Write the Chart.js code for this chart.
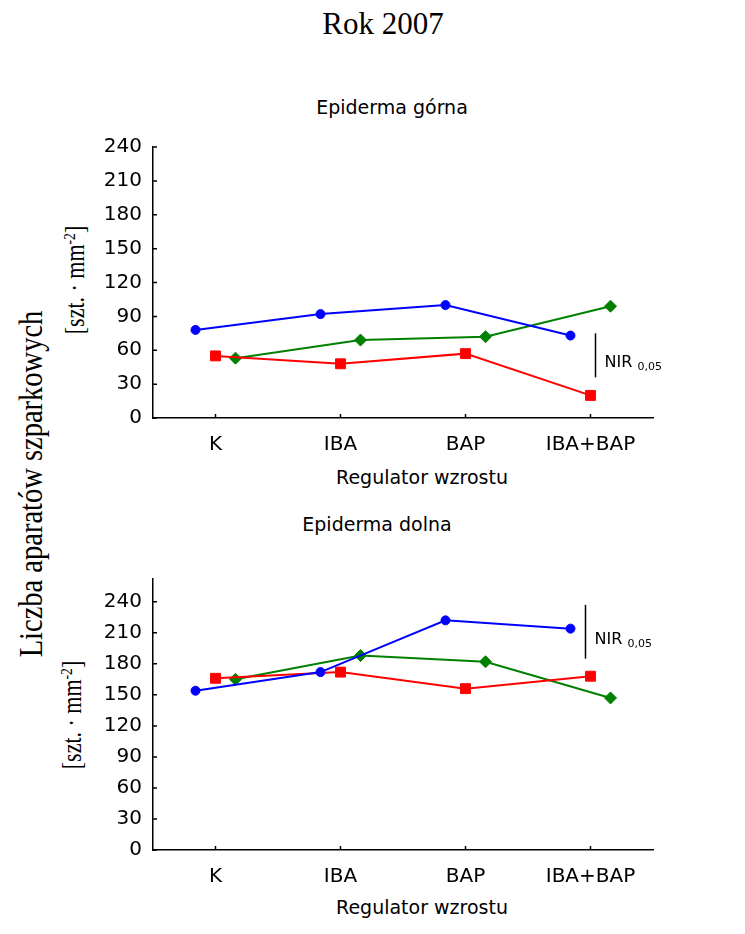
<!DOCTYPE html>
<html>
<head>
<meta charset="utf-8">
<script src="https://cdn.jsdelivr.net/npm/chart.js@4"></script>
<style>
  body { margin: 0; background: #fff; }
  #page { position: relative; width: 745px; height: 934px; overflow: hidden; }
  .lbl { position: absolute; white-space: nowrap; line-height: 1; color: #000; }
  .sans { font-family: "DejaVu Sans", sans-serif; font-size: 19px; transform: translateX(-50%); }
  .serif { font-family: "Liberation Serif", serif; }
  .rot { transform: translate(-50%, -50%) scaleX(1.2) rotate(-90deg); }
  sup { font-size: 0.62em; vertical-align: 0.55em; line-height: 0; }
  canvas { position: absolute; left: 0; }
</style>
</head>
<body>
<div id="page">
  <div class="lbl serif" style="left:383px; top:8px; font-size:31px; transform:translateX(-50%);">Rok 2007</div>
  <div class="lbl serif rot" style="left:31px; top:484px; font-size:28.5px;">Liczba aparatów szparkowych</div>
  <div class="lbl serif rot" style="left:76px; top:280px; font-size:22px;">[szt. · mm<sup>-2</sup>]</div>
  <div class="lbl serif rot" style="left:73px; top:715px; font-size:22px;">[szt. · mm<sup>-2</sup>]</div>

  <div class="lbl sans" style="left:392px; top:98px;">Epiderma górna</div>
  <div class="lbl sans" style="left:422px; top:468px;">Regulator wzrostu</div>
  <div class="lbl sans" style="left:377px; top:515px;">Epiderma dolna</div>
  <div class="lbl sans" style="left:422px; top:898px;">Regulator wzrostu</div>

  <canvas id="upper" width="745" height="392" style="top:80px;"></canvas>
  <canvas id="lower" width="745" height="348" style="top:556px;"></canvas>
</div>

<script>
// categories and tick values
var categories = ['K', 'IBA', 'BAP', 'IBA+BAP'];
var yTicks = [0, 30, 60, 90, 120, 150, 180, 210, 240];

// epiderma górna
var upperBlue = [78, 92, 100, 73];
var upperRed = [55, 48, 57, 20];
var upperGreen = [53, 69, 72, 99];
var upperNir = [36, 75];

// epiderma dolna
var lowerBlue = [154, 172, 222, 214];
var lowerRed = [166, 172, 156, 168];
var lowerGreen = [165, 188, 182, 147];
var lowerNir = [185, 237];

Chart.defaults.font.family = '"DejaVu Sans", sans-serif';
Chart.defaults.color = '#000';

// series are shifted a little left/right of the category centre
function points(values, shift) {
  return values.map(function(v, i){ return {x: i + shift, y: v}; });
}

function series(values, shift, color, style, radius) {
  return {
    data: points(values, shift),
    borderColor: color,
    backgroundColor: color,
    borderWidth: 2,
    pointStyle: style,
    pointRadius: radius,
    pointBorderWidth: 1,
    pointBorderColor: color,
    pointBackgroundColor: color,
    tension: 0
  };
}

// short tick marks pointing into the plot
var innerTicks = {
  id: 'innerTicks',
  afterDraw: function(chart) {
    var ctx = chart.ctx, area = chart.chartArea;
    var x = chart.scales.x, y = chart.scales.y;
    ctx.save();
    ctx.strokeStyle = '#000';
    ctx.lineWidth = 1.5;
    ctx.beginPath();
    x.ticks.forEach(function(t){
      var px = x.getPixelForValue(t.value);
      ctx.moveTo(px, area.bottom);
      ctx.lineTo(px, area.bottom - 4);
    });
    y.ticks.forEach(function(t){
      var py = y.getPixelForValue(t.value);
      ctx.moveTo(area.left, py);
      ctx.lineTo(area.left + 4, py);
    });
    ctx.stroke();
    ctx.restore();
  }
};

// NIR 0,05 bar with its label
var nirBar = {
  id: 'nirBar',
  afterDraw: function(chart, args, opts) {
    var ctx = chart.ctx;
    var px = chart.scales.x.getPixelForValue(opts.x);
    var y1 = chart.scales.y.getPixelForValue(opts.range[0]);
    var y2 = chart.scales.y.getPixelForValue(opts.range[1]);
    ctx.save();
    ctx.strokeStyle = '#000';
    ctx.lineWidth = 1.5;
    ctx.beginPath();
    ctx.moveTo(px, y1);
    ctx.lineTo(px, y2);
    ctx.stroke();
    var base = (y1 + y2) / 2 + 12;
    ctx.fillStyle = '#000';
    ctx.textBaseline = 'alphabetic';
    ctx.font = '16px "DejaVu Sans"';
    ctx.fillText('NIR', px + 9, base);
    var w = ctx.measureText('NIR ').width;
    ctx.font = '11px "DejaVu Sans"';
    ctx.fillText('0,05', px + 9 + w, base + 3);
    ctx.restore();
  }
};

function makeChart(id, blue, red, green, yMax, topPad, nir, nirX) {
  return new Chart(document.getElementById(id), {
    type: 'line',
    data: {
      datasets: [
        series(blue, -0.16, '#0000ff', 'circle', 4.5),
        series(red, 0, '#ff0000', 'rect', 7),
        series(green, 0.16, '#008000', 'rectRot', 6)
      ]
    },
    options: {
      responsive: false,
      animation: false,
      events: [],
      layout: { padding: { top: topPad, right: 92, bottom: 0, left: 0 } },
      scales: {
        x: {
          type: 'linear',
          min: -0.5,
          max: 3.5,
          afterBuildTicks: function(scale){
            scale.ticks = categories.map(function(c, i){ return {value: i}; });
          },
          ticks: {
            font: { size: 20 },
            padding: 15,
            maxRotation: 0,
            autoSkip: false,
            callback: function(v){ return categories[v]; }
          },
          grid: { display: false, drawTicks: false },
          border: { display: true, color: '#000', width: 1.5 }
        },
        y: {
          min: 0,
          max: yMax,
          afterBuildTicks: function(scale){
            scale.ticks = yTicks.map(function(v){ return {value: v}; });
          },
          afterFit: function(scale){ scale.width = 153; },
          ticks: { font: { size: 20 }, padding: 11 },
          grid: { display: false, drawTicks: false },
          border: { display: true, color: '#000', width: 1.5 }
        }
      },
      plugins: {
        legend: { display: false },
        tooltip: { enabled: false },
        nirBar: { x: nirX, range: nir }
      }
    },
    plugins: [innerTicks, nirBar]
  });
}

makeChart('upper', upperBlue, upperRed, upperGreen, 240, 67, upperNir, 3.04);
makeChart('lower', lowerBlue, lowerRed, lowerGreen, 262, 13, lowerNir, 2.96);
</script>
</body>
</html>
